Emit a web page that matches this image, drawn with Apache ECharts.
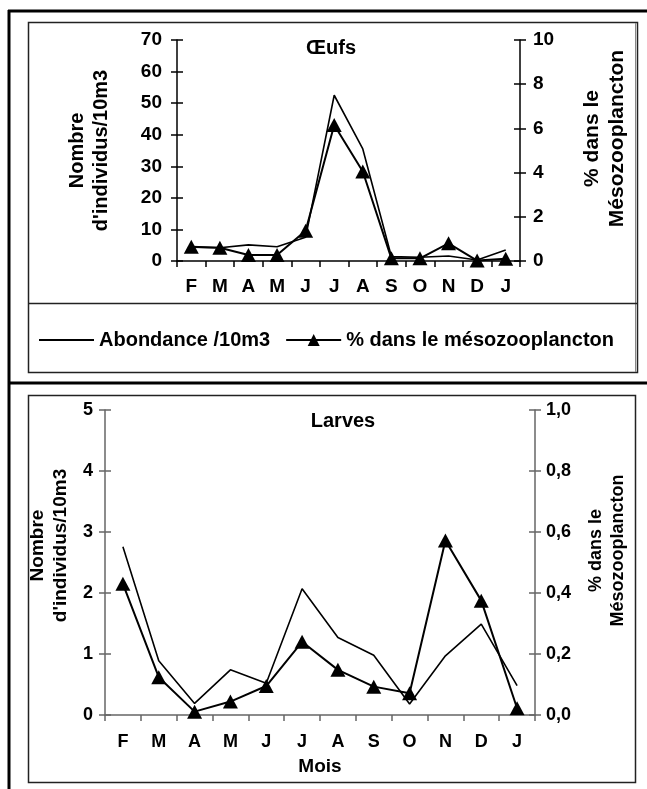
<!DOCTYPE html>
<html>
<head>
<meta charset="utf-8">
<script src="https://cdn.jsdelivr.net/npm/echarts@6/dist/echarts.min.js"></script>
<style>
html,body{margin:0;padding:0;background:#fff;}
#c{width:647px;height:789px;}
</style>
</head>
<body>
<div id="c"></div>
<script>
// ---- data ----
var months = ['F','M','A','M','J','J','A','S','O','N','D','J'];
var oeufsAbondance = [4.4, 4.2, 5.1, 4.5, 7.5, 52.5, 35.5, 1.4, 1.2, 1.6, 0.3, 3.5];
var oeufsPct = [0.65, 0.6, 0.27, 0.27, 1.37, 6.15, 4.05, 0.12, 0.12, 0.8, 0.02, 0.1];
var larvesAbondance = [2.76, 0.89, 0.19, 0.74, 0.52, 2.07, 1.27, 0.98, 0.18, 0.97, 1.49, 0.48];
var larvesPct = [0.43, 0.124, 0.011, 0.044, 0.095, 0.24, 0.148, 0.093, 0.071, 0.572, 0.375, 0.022];
var legendNames = ['Abondance /10m3', '% dans le mésozooplancton'];

var F = 'Liberation Sans, Arial, sans-serif';
var chart = echarts.init(document.getElementById('c'));

function xAx(grid, inside, col, fs, margin, name) {
  return {
    type: 'category', gridIndex: grid, data: months, boundaryGap: true,
    axisLine: {show: !inside, lineStyle: {color: col, width: 1.5}},
    axisTick: {show: true, inside: inside, length: 6, lineStyle: {color: col, width: 1.5}},
    axisLabel: {show: !inside, color: '#000', fontFamily: F, fontWeight: 'bold', fontSize: fs, margin: margin},
    name: inside ? '' : (name || ''), nameLocation: 'middle', nameGap: 42,
    nameTextStyle: {color: '#000', fontFamily: F, fontWeight: 'bold', fontSize: 19},
    splitLine: {show: false}
  };
}
function yAx(grid, pos, inside, min, max, interval, col, fs, margin, name, nameGap, nfs, shiftUp, fmt) {
  return {
    type: 'value', gridIndex: grid, position: pos, min: min, max: max, interval: interval,
    axisLine: {show: !inside, lineStyle: {color: col, width: 1.5}},
    axisTick: {show: true, inside: inside, length: 6, lineStyle: {color: col, width: 1.5}},
    axisLabel: {show: !inside, color: '#000', fontFamily: F, fontWeight: 'bold', fontSize: fs, margin: margin,
      formatter: fmt || null},
    splitLine: {show: false},
    name: inside ? '' : name, nameLocation: 'middle', nameRotate: 90, nameGap: nameGap,
    nameTextStyle: {color: '#000', fontFamily: F, fontWeight: 'bold', fontSize: nfs, lineHeight: nfs + 4,
      padding: [0, 0, 0, (shiftUp || 0) * 2]}
  };
}
var pctFmt = function (v) { return v.toFixed(1).replace('.', ','); };

var option = {
  animation: false,
  backgroundColor: '#fff',
  title: [
    {text: 'Œufs', left: 326, top: 33, textAlign: 'center',
      textStyle: {fontFamily: F, fontWeight: 'bold', fontSize: 20, color: '#000'}},
    {text: 'Larves', left: 338, top: 406, textAlign: 'center',
      textStyle: {fontFamily: F, fontWeight: 'bold', fontSize: 20, color: '#000'}}
  ],
  legend: {
    left: 38, top: 330, itemWidth: 55, itemHeight: 15, itemGap: 15, padding: 0,
    data: [
      {name: legendNames[0], itemStyle: {color: 'rgba(0,0,0,0)', borderWidth: 0}},
      {name: legendNames[1]}
    ],
    textStyle: {fontFamily: F, fontWeight: 'bold', fontSize: 20, color: '#000'}
  },
  grid: [
    {left: 177, top: 40, width: 343, height: 221},
    {left: 105, top: 410, width: 430, height: 305}
  ],
  xAxis: [
    xAx(0, false, '#000', 19, 16),
    xAx(0, true, '#000', 19, 16),
    xAx(1, false, '#666', 18, 18, 'Mois'),
    xAx(1, true, '#666', 18, 18)
  ],
  yAxis: [
    yAx(0, 'left', false, 0, 70, 10, '#000', 19, 15, "Nombre\nd'individus/10m3", 64, 20, 0),
    yAx(0, 'right', false, 0, 10, 2, '#000', 19, 13, '% dans le\nMésozooplancton', 60, 21, 12),
    yAx(0, 'left', true, 0, 70, 10, '#000', 19, 15, ''),
    yAx(0, 'right', true, 0, 10, 2, '#000', 19, 13, ''),
    yAx(1, 'left', false, 0, 5, 1, '#666', 18, 12, "Nombre\nd'individus/10m3", 25, 19, 17),
    yAx(1, 'right', false, 0, 1, 0.2, '#666', 18, 11, '% dans le\nMésozooplancton', 50, 18, 12, pctFmt),
    yAx(1, 'left', true, 0, 5, 1, '#666', 18, 12, ''),
    yAx(1, 'right', true, 0, 1, 0.2, '#666', 18, 11, '')
  ],
  series: [
    {name: legendNames[0], type: 'line', xAxisIndex: 0, yAxisIndex: 0, data: oeufsAbondance,
      symbol: 'none', lineStyle: {color: '#000', width: 1.6}, itemStyle: {color: '#000'}},
    {name: legendNames[1], type: 'line', xAxisIndex: 0, yAxisIndex: 1, data: oeufsPct,
      symbol: 'triangle', symbolSize: [15, 14], lineStyle: {color: '#000', width: 2}, itemStyle: {color: '#000'}},
    {name: legendNames[0], type: 'line', xAxisIndex: 2, yAxisIndex: 4, data: larvesAbondance,
      symbol: 'none', lineStyle: {color: '#000', width: 1.6}, itemStyle: {color: '#000'}},
    {name: legendNames[1], type: 'line', xAxisIndex: 2, yAxisIndex: 5, data: larvesPct,
      symbol: 'triangle', symbolSize: [15, 14], lineStyle: {color: '#000', width: 2}, itemStyle: {color: '#000'}}
  ],
  graphic: [
    {type: 'line', shape: {x1: 8, y1: 11, x2: 647, y2: 11}, style: {stroke: '#000', lineWidth: 3}},
    {type: 'line', shape: {x1: 9, y1: 10, x2: 9, y2: 789}, style: {stroke: '#000', lineWidth: 3}},
    {type: 'line', shape: {x1: 9, y1: 383, x2: 647, y2: 383}, style: {stroke: '#000', lineWidth: 3}},
    {type: 'rect', shape: {x: 28.5, y: 22.5, width: 609, height: 350}, style: {fill: 'none', stroke: '#222', lineWidth: 1.5}},
    {type: 'line', shape: {x1: 635.5, y1: 23, x2: 635.5, y2: 372}, style: {stroke: '#888', lineWidth: 1}},
    {type: 'line', shape: {x1: 28, y1: 303.5, x2: 638, y2: 303.5}, style: {stroke: '#222', lineWidth: 1.5}},
    {type: 'rect', shape: {x: 28.5, y: 395.5, width: 607, height: 387}, style: {fill: 'none', stroke: '#222', lineWidth: 1.5}}
  ]
};
chart.setOption(option);
</script>
</body>
</html>
